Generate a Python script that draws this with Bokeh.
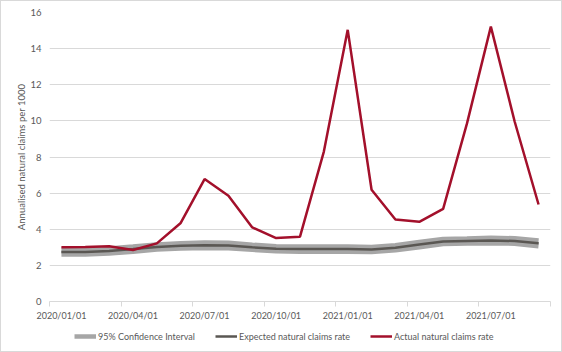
from bokeh.plotting import figure
from bokeh.layouts import column
from bokeh.models import FixedTicker, Legend, LegendItem, Range1d
from bokeh.embed import file_html
from bokeh.resources import INLINE

months = ["2020/01/01", "2020/02/01", "2020/03/01", "2020/04/01", "2020/05/01",
          "2020/06/01", "2020/07/01", "2020/08/01", "2020/09/01", "2020/10/01",
          "2020/11/01", "2020/12/01", "2021/01/01", "2021/02/01", "2021/03/01",
          "2021/04/01", "2021/05/01", "2021/06/01", "2021/07/01", "2021/08/01",
          "2021/09/01"]
actual = [3.0, 3.02, 3.06, 2.85, 3.22, 4.35, 6.78, 5.86, 4.1, 3.51, 3.59,
          8.3, 15.04, 6.19, 4.54, 4.41, 5.13, 9.86, 15.22, 9.95, 5.37]
expected = [2.74, 2.74, 2.8, 2.9, 3.02, 3.08, 3.12, 3.1, 3.0, 2.92, 2.9,
            2.9, 2.9, 2.88, 2.98, 3.15, 3.32, 3.35, 3.38, 3.35, 3.22]
ci_lower = [2.64, 2.64, 2.7, 2.8, 2.92, 2.98, 3.01, 2.99, 2.9, 2.82, 2.8,
            2.8, 2.8, 2.78, 2.88, 3.05, 3.22, 3.25, 3.27, 3.24, 3.1]
ci_upper = [2.84, 2.84, 2.9, 3.0, 3.12, 3.18, 3.23, 3.21, 3.1, 3.02, 3.0,
            3.0, 3.0, 2.98, 3.08, 3.25, 3.42, 3.45, 3.49, 3.46, 3.34]
tick_labels = ["2020/01/01", "2020/04/01", "2020/07/01", "2020/10/01",
               "2021/01/01", "2021/04/01", "2021/07/01"]
y_ticks = [0, 2, 4, 6, 8, 10, 12, 14, 16]
series_names = ["95% Confidence Interval", "Expected natural claims rate",
                "Actual natural claims rate"]

FONT = "Lato"
TXT = "#595959"
GRID = "#d9d9d9"
CI_C, EXP_C, ACT_C = "#a6a6a6", "#5a5753", "#a3102b"

x = list(range(len(months)))
n = len(months)

p = figure(width=560, height=322, output_backend="svg", toolbar_location=None,
           x_range=Range1d(-0.5, n - 0.5), y_range=Range1d(0, 16),
           min_border_left=48, min_border_right=11, min_border_top=11,
           min_border_bottom=20, outline_line_color=None,
           background_fill_color="white", border_fill_color="white")

p.line(x, ci_lower, line_color=CI_C, line_width=6)
p.line(x, ci_upper, line_color=CI_C, line_width=6)
p.line(x, expected, line_color=EXP_C, line_width=2.5)
p.line(x, actual, line_color=ACT_C, line_width=2.5)

# x axis: labels centred on categories, tick marks between categories
major = [months.index(t) for t in tick_labels]
minor = [i - 0.5 for i in range(0, n + 1, 3)]
p.xaxis.ticker = FixedTicker(ticks=major, minor_ticks=minor)
p.xaxis.major_label_overrides = {m: t for m, t in zip(major, tick_labels)}
p.xaxis.axis_line_color = GRID
p.xaxis.major_tick_out = 0
p.xaxis.major_tick_in = 0
p.xaxis.minor_tick_out = 5
p.xaxis.minor_tick_in = 0
p.xaxis.minor_tick_line_color = GRID
p.xaxis.major_label_standoff = 3
p.xaxis.major_label_text_font = FONT
p.xaxis.major_label_text_font_size = "9px"
p.xaxis.major_label_text_color = TXT

p.yaxis.ticker = FixedTicker(ticks=y_ticks)
p.yaxis.axis_line_color = None
p.yaxis.major_tick_line_color = None
p.yaxis.minor_tick_line_color = None
p.yaxis.major_tick_out = 0
p.yaxis.major_tick_in = 0
p.yaxis.major_label_standoff = 8
p.yaxis.major_label_text_font = FONT
p.yaxis.major_label_text_font_size = "9.5px"
p.yaxis.major_label_text_color = TXT
p.yaxis.axis_label = "Annualised natural claims per 1000"
p.yaxis.axis_label_text_font = FONT
p.yaxis.axis_label_text_font_size = "9.5px"
p.yaxis.axis_label_text_font_style = "normal"
p.yaxis.axis_label_text_color = TXT
p.yaxis.axis_label_standoff = 0

p.xgrid.grid_line_color = None
p.ygrid.grid_line_color = GRID
p.ygrid.grid_line_width = 1

# legend strip below the chart (series drawn outside its ranges, so only
# the legend swatches are visible)
q = figure(width=560, height=28, output_backend="svg", toolbar_location=None,
           x_range=Range1d(-0.5, n - 0.5), y_range=Range1d(-2, -1),
           x_axis_type=None, y_axis_type=None, outline_line_color=None,
           min_border_left=48, min_border_right=11, min_border_top=0,
           min_border_bottom=0, background_fill_color="white",
           border_fill_color="white")
l_ci = q.line(x, ci_upper, line_color=CI_C, line_width=4.5)
l_exp = q.line(x, expected, line_color=EXP_C, line_width=2.5)
l_act = q.line(x, actual, line_color=ACT_C, line_width=2.5)
items = [LegendItem(label=nm, renderers=[r])
         for nm, r in zip(series_names, [l_ci, l_exp, l_act])]
lg = Legend(items=items, location=(25, 9), orientation="horizontal",
            padding=0, margin=0, spacing=20, label_standoff=2,
            glyph_width=22, glyph_height=12, label_height=12, label_width=0,
            background_fill_alpha=0, border_line_color=None,
            label_text_font=FONT, label_text_font_size="9px",
            label_text_color=TXT)
q.add_layout(lg)

layout = column(p, q, spacing=0, styles={"border": "1px solid #d9d9d9"})

open("out.html", "w").write(file_html(layout, INLINE))
